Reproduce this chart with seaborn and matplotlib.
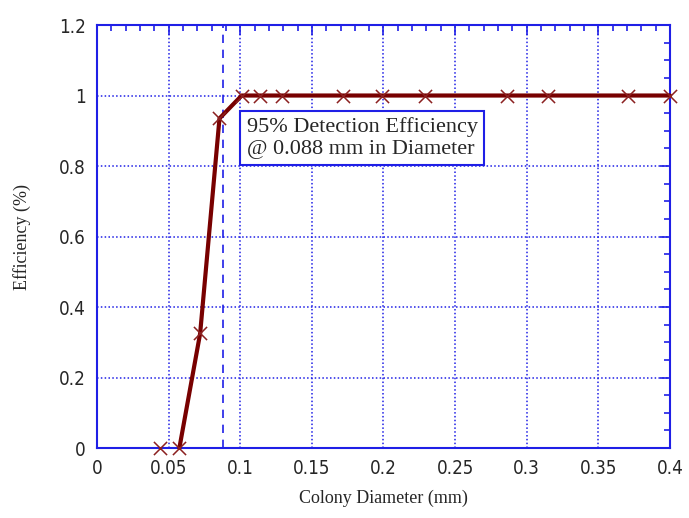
import matplotlib
matplotlib.use("Agg")
import matplotlib.pyplot as plt
import seaborn as sns
import pandas as pd
from matplotlib.ticker import MultipleLocator

# values
diameter = [0.044, 0.0575, 0.072, 0.0855, 0.101, 0.114, 0.129, 0.172, 0.199,
            0.229, 0.286, 0.315, 0.371, 0.400]
efficiency = [0.0, 0.0, 0.325, 0.935, 1.0, 1.0, 1.0, 1.0, 1.0,
              1.0, 1.0, 1.0, 1.0, 1.0]
x_ticks = [0, 0.05, 0.1, 0.15, 0.2, 0.25, 0.3, 0.35, 0.4]
x_labels = ["0", "0.05", "0.1", "0.15", "0.2", "0.25", "0.3", "0.35", "0.4"]
y_ticks = [0, 0.2, 0.4, 0.6, 0.8, 1.0, 1.2]
y_labels = ["0", "0.2", "0.4", "0.6", "0.8", "1", "1.2"]
threshold = 0.088
note = "95% Detection Efficiency\n@ 0.088 mm in Diameter"

df = pd.DataFrame({"Diameter": diameter, "Efficiency": efficiency})

sns.set_style("white")
num_font = ["DejaVu Sans"]
serif_font = ["Liberation Serif", "DejaVu Serif"]
blue = "#1f1fe6"

fig = plt.figure(figsize=(6.89, 5.18), dpi=100)
ax = fig.add_axes([0.1408, 0.1351, 0.8316, 0.8166])

ax.axvline(threshold, color=blue, linestyle=(0, (5, 4)), linewidth=1.2, zorder=2)

# line starts at the first non-zero-diameter point on the curve
sns.lineplot(x="Diameter", y="Efficiency", data=df.iloc[1:], color="#780000",
             linewidth=3, ax=ax, zorder=3, clip_on=False)
sns.scatterplot(x="Diameter", y="Efficiency", data=df, marker="x", color="#8b2020",
                s=90, linewidth=1.1, ax=ax, zorder=4, clip_on=False)

ax.set_xlim(0, 0.4)
ax.set_ylim(0, 1.2)
ax.set_xticks(x_ticks, x_labels)
ax.set_yticks(y_ticks, y_labels)
ax.xaxis.set_minor_locator(MultipleLocator(0.01))
ax.yaxis.set_minor_locator(MultipleLocator(0.05))

ax.tick_params(which="both", direction="in", top=True, right=True, color=blue,
               labelsize=13.5, pad=8)
ax.tick_params(which="major", length=7, width=1.2)
ax.tick_params(which="minor", length=4, width=1.2)
for lab in ax.get_xticklabels() + ax.get_yticklabels():
    lab.set_family(num_font)
    lab.set_stretch("condensed")

ax.grid(True, which="major", color=blue, linestyle=(0, (1, 1.5)), linewidth=1.1)
for sp in ax.spines.values():
    sp.set_color(blue)
    sp.set_linewidth(1.5)

ax.set_xlabel("Colony Diameter (mm)", family=serif_font, fontsize=13, labelpad=8)
ax.set_ylabel("Efficiency (%)", family=serif_font, fontsize=13, labelpad=20)

ax.text(0.1045, 0.88, note, family=serif_font, fontsize=16, va="center", ha="left",
        linespacing=1.2, zorder=5,
        bbox=dict(boxstyle="square,pad=0.28", facecolor="white", edgecolor=blue, linewidth=1.5))

fig.savefig("out.png", dpi=100)
